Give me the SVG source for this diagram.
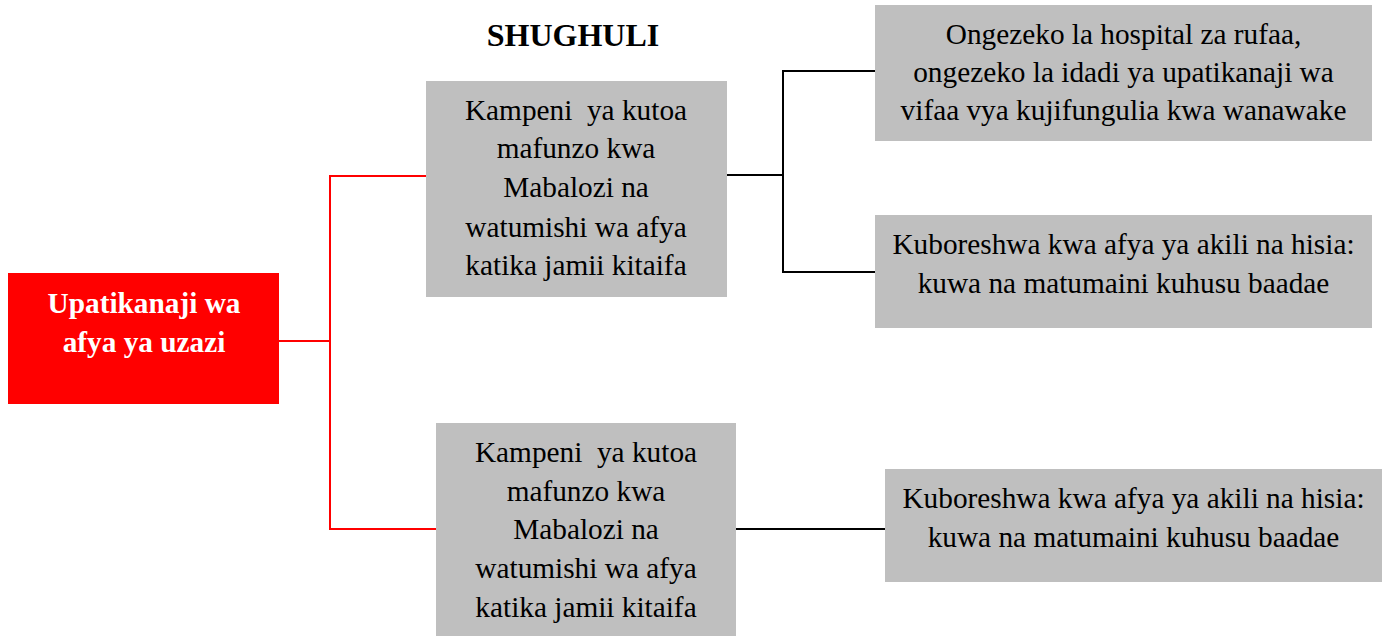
<svg xmlns="http://www.w3.org/2000/svg" width="1384" height="636" viewBox="0 0 1384 636">
<style>
.box{fill:#bfbfbf}
.root{fill:#ff0000}
.t{font-family:"Liberation Serif","Times New Roman",serif;font-size:29.3px;fill:#000;text-anchor:middle}
.tb{font-family:"Liberation Serif","Times New Roman",serif;font-size:29.3px;font-weight:bold;fill:#fff;text-anchor:middle}
.title{font-family:"Liberation Serif","Times New Roman",serif;font-size:32px;font-weight:bold;fill:#000;text-anchor:middle}
.red{stroke:#ff0000;stroke-width:2;fill:none}
.blk{stroke:#000;stroke-width:2;fill:none}
</style>
<text class="title" x="573" y="46">SHUGHULI</text>
<g id="connectors">
<polyline class="red" points="279,341 330,341"/>
<polyline class="red" points="426,176 330,176 330,529 436,529"/>
<polyline class="blk" points="727,175 783,175"/>
<polyline class="blk" points="876,71 783,71 783,272 876,272"/>
<polyline class="blk" points="736,529 885,529"/>
</g>
<g id="root">
<rect class="root" x="8" y="273" width="271" height="131"/>
<text class="tb" x="144" y="313">Upatikanaji wa</text>
<text class="tb" x="144" y="352">afya ya uzazi</text>
</g>
<g id="activity1">
<rect class="box" x="426" y="81" width="301" height="216"/>
<text class="t" x="576" y="120">Kampeni&#160; ya kutoa</text>
<text class="t" x="576" y="158">mafunzo kwa</text>
<text class="t" x="576" y="197">Mabalozi na</text>
<text class="t" x="576" y="237">watumishi wa afya</text>
<text class="t" x="576" y="275">katika jamii kitaifa</text>
</g>
<g id="activity2">
<rect class="box" x="436" y="423" width="300" height="213"/>
<text class="t" x="586" y="462">Kampeni&#160; ya kutoa</text>
<text class="t" x="586" y="501">mafunzo kwa</text>
<text class="t" x="586" y="539">Mabalozi na</text>
<text class="t" x="586" y="578">watumishi wa afya</text>
<text class="t" x="586" y="617">katika jamii kitaifa</text>
</g>
<g id="outcome1">
<rect class="box" x="875" y="5" width="497" height="136"/>
<text class="t" x="1123.5" y="44">Ongezeko la hospital za rufaa,</text>
<text class="t" x="1123.5" y="82">ongezeko la idadi ya upatikanaji wa</text>
<text class="t" x="1123.5" y="120">vifaa vya kujifungulia kwa wanawake</text>
</g>
<g id="outcome2">
<rect class="box" x="875" y="215" width="497" height="113"/>
<text class="t" x="1123.5" y="254">Kuboreshwa kwa afya ya akili na hisia:</text>
<text class="t" x="1123.5" y="293">kuwa na matumaini kuhusu baadae</text>
</g>
<g id="outcome3">
<rect class="box" x="885" y="469" width="497" height="113"/>
<text class="t" x="1133.5" y="508">Kuboreshwa kwa afya ya akili na hisia:</text>
<text class="t" x="1133.5" y="547">kuwa na matumaini kuhusu baadae</text>
</g>
</svg>
